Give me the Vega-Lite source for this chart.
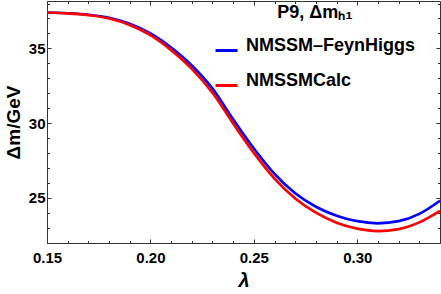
{
  "$schema": "https://vega.github.io/schema/vega-lite/v6.json",
  "width": 393,
  "height": 242,
  "autosize": {"type": "none"},
  "padding": {"left": 47, "top": 1, "right": 1, "bottom": 51},
  "background": "white",
  "config": {
    "view": {"stroke": "#333", "strokeWidth": 1},
    "axis": {
      "labelFont": "Liberation Sans",
      "labelFontWeight": "bold",
      "labelFontSize": 15,
      "labelColor": "#000",
      "labelFlush": false,
      "titleFont": "Liberation Sans",
      "titleFontWeight": "bold",
      "titleColor": "#000",
      "tickColor": "#333",
      "grid": false,
      "domain": false
    }
  },
  "data": {
    "values": [
      {"lambda": 0.15, "dm": 37.4, "series": "NMSSM–FeynHiggs"},
      {"lambda": 0.16, "dm": 37.35, "series": "NMSSM–FeynHiggs"},
      {"lambda": 0.17, "dm": 37.25, "series": "NMSSM–FeynHiggs"},
      {"lambda": 0.18, "dm": 37.05, "series": "NMSSM–FeynHiggs"},
      {"lambda": 0.19, "dm": 36.65, "series": "NMSSM–FeynHiggs"},
      {"lambda": 0.20, "dm": 36.0, "series": "NMSSM–FeynHiggs"},
      {"lambda": 0.21, "dm": 35.05, "series": "NMSSM–FeynHiggs"},
      {"lambda": 0.22, "dm": 33.85, "series": "NMSSM–FeynHiggs"},
      {"lambda": 0.23, "dm": 32.3, "series": "NMSSM–FeynHiggs"},
      {"lambda": 0.24, "dm": 30.25, "series": "NMSSM–FeynHiggs"},
      {"lambda": 0.25, "dm": 28.3, "series": "NMSSM–FeynHiggs"},
      {"lambda": 0.26, "dm": 26.6, "series": "NMSSM–FeynHiggs"},
      {"lambda": 0.27, "dm": 25.3, "series": "NMSSM–FeynHiggs"},
      {"lambda": 0.28, "dm": 24.4, "series": "NMSSM–FeynHiggs"},
      {"lambda": 0.29, "dm": 23.8, "series": "NMSSM–FeynHiggs"},
      {"lambda": 0.30, "dm": 23.43, "series": "NMSSM–FeynHiggs"},
      {"lambda": 0.31, "dm": 23.29, "series": "NMSSM–FeynHiggs"},
      {"lambda": 0.32, "dm": 23.43, "series": "NMSSM–FeynHiggs"},
      {"lambda": 0.33, "dm": 23.92, "series": "NMSSM–FeynHiggs"},
      {"lambda": 0.34, "dm": 24.8, "series": "NMSSM–FeynHiggs"},
      {"lambda": 0.15, "dm": 37.4, "series": "NMSSMCalc"},
      {"lambda": 0.16, "dm": 37.34, "series": "NMSSMCalc"},
      {"lambda": 0.17, "dm": 37.22, "series": "NMSSMCalc"},
      {"lambda": 0.18, "dm": 37.0, "series": "NMSSMCalc"},
      {"lambda": 0.19, "dm": 36.57, "series": "NMSSMCalc"},
      {"lambda": 0.20, "dm": 35.88, "series": "NMSSMCalc"},
      {"lambda": 0.21, "dm": 34.88, "series": "NMSSMCalc"},
      {"lambda": 0.22, "dm": 33.63, "series": "NMSSMCalc"},
      {"lambda": 0.23, "dm": 32.03, "series": "NMSSMCalc"},
      {"lambda": 0.24, "dm": 29.97, "series": "NMSSMCalc"},
      {"lambda": 0.25, "dm": 28.0, "series": "NMSSMCalc"},
      {"lambda": 0.26, "dm": 26.28, "series": "NMSSMCalc"},
      {"lambda": 0.27, "dm": 24.95, "series": "NMSSMCalc"},
      {"lambda": 0.28, "dm": 24.0, "series": "NMSSMCalc"},
      {"lambda": 0.29, "dm": 23.33, "series": "NMSSMCalc"},
      {"lambda": 0.30, "dm": 22.93, "series": "NMSSMCalc"},
      {"lambda": 0.31, "dm": 22.77, "series": "NMSSMCalc"},
      {"lambda": 0.32, "dm": 22.9, "series": "NMSSMCalc"},
      {"lambda": 0.33, "dm": 23.35, "series": "NMSSMCalc"},
      {"lambda": 0.34, "dm": 24.12, "series": "NMSSMCalc"}
    ]
  },
  "resolve": {"axis": {"x": "independent", "y": "independent"}},
  "layer": [
    {
      "mark": {"type": "line", "strokeWidth": 2.7, "interpolate": "monotone"},
      "encoding": {
        "x": {
          "field": "lambda", "type": "quantitative",
          "scale": {"domain": [0.15, 0.34], "nice": false, "zero": false},
          "axis": {"orient": "bottom", "values": [0.15, 0.2, 0.25, 0.3], "format": ".2f", "ticks": false, "tickSize": 0, "labelPadding": 7, "title": "λ", "titleFontSize": 20, "titleFontStyle": "italic", "titlePadding": 5}
        },
        "y": {
          "field": "dm", "type": "quantitative",
          "scale": {"domain": [21.97, 38.17], "nice": false, "zero": false},
          "axis": {"orient": "left", "values": [25, 30, 35], "ticks": false, "tickSize": 0, "labelPadding": 2, "title": "Δm/GeV", "titleFontSize": 19, "titlePadding": 5}
        },
        "color": {
          "field": "series", "type": "nominal", "sort": ["NMSSM–FeynHiggs", "NMSSMCalc"],
          "scale": {"domain": ["NMSSM–FeynHiggs", "NMSSMCalc"], "range": ["#0000ff", "#ff0000"]},
          "legend": {
            "orient": "none", "legendX": 167, "legendY": 3,
            "title": "P9, Δmₕ₁",
            "titleFont": "Liberation Sans", "titleFontWeight": "bold", "titleFontSize": 18, "titleColor": "#000",
            "titleAnchor": "middle", "titlePadding": 16,
            "labelFont": "Liberation Sans", "labelFontWeight": "bold", "labelFontSize": 18, "labelColor": "#000",
            "labelBaseline": "alphabetic", "labelOffset": 7, "labelLimit": 300,
            "symbolType": "stroke", "symbolSize": 484, "symbolStrokeWidth": 3,
            "rowPadding": 14, "padding": 0
          }
        }
      }
    },
    {
      "mark": {"type": "line", "opacity": 0},
      "encoding": {
        "x": {"field": "lambda", "type": "quantitative", "axis": {"orient": "bottom", "values": [0.15, 0.2, 0.25, 0.3], "labels": false, "tickSize": -4, "title": null}},
        "y": {"field": "dm", "type": "quantitative", "axis": {"orient": "left", "values": [25, 30, 35], "labels": false, "tickSize": -4, "title": null}},
        "detail": {"field": "series"}
      }
    },
    {
      "mark": {"type": "line", "opacity": 0},
      "encoding": {
        "x": {"field": "lambda", "type": "quantitative", "axis": {"orient": "bottom", "values": [0.16, 0.17, 0.18, 0.19, 0.21, 0.22, 0.23, 0.24, 0.26, 0.27, 0.28, 0.29, 0.31, 0.32, 0.33], "labels": false, "tickSize": -2.5, "title": null}},
        "y": {"field": "dm", "type": "quantitative", "axis": {"orient": "left", "values": [22, 23, 24, 26, 27, 28, 29, 31, 32, 33, 34, 36, 37, 38], "labels": false, "tickSize": -2.5, "title": null}},
        "detail": {"field": "series"}
      }
    },
    {
      "mark": {"type": "line", "opacity": 0},
      "encoding": {
        "x": {"field": "lambda", "type": "quantitative", "axis": {"orient": "top", "values": [0.15, 0.2, 0.25, 0.3], "labels": false, "tickSize": -4, "title": null}},
        "y": {"field": "dm", "type": "quantitative", "axis": {"orient": "right", "values": [25, 30, 35], "labels": false, "tickSize": -4, "title": null}},
        "detail": {"field": "series"}
      }
    },
    {
      "mark": {"type": "line", "opacity": 0},
      "encoding": {
        "x": {"field": "lambda", "type": "quantitative", "axis": {"orient": "top", "values": [0.16, 0.17, 0.18, 0.19, 0.21, 0.22, 0.23, 0.24, 0.26, 0.27, 0.28, 0.29, 0.31, 0.32, 0.33], "labels": false, "tickSize": -2.5, "title": null}},
        "y": {"field": "dm", "type": "quantitative", "axis": {"orient": "right", "values": [22, 23, 24, 26, 27, 28, 29, 31, 32, 33, 34, 36, 37, 38], "labels": false, "tickSize": -2.5, "title": null}},
        "detail": {"field": "series"}
      }
    }
  ]
}
